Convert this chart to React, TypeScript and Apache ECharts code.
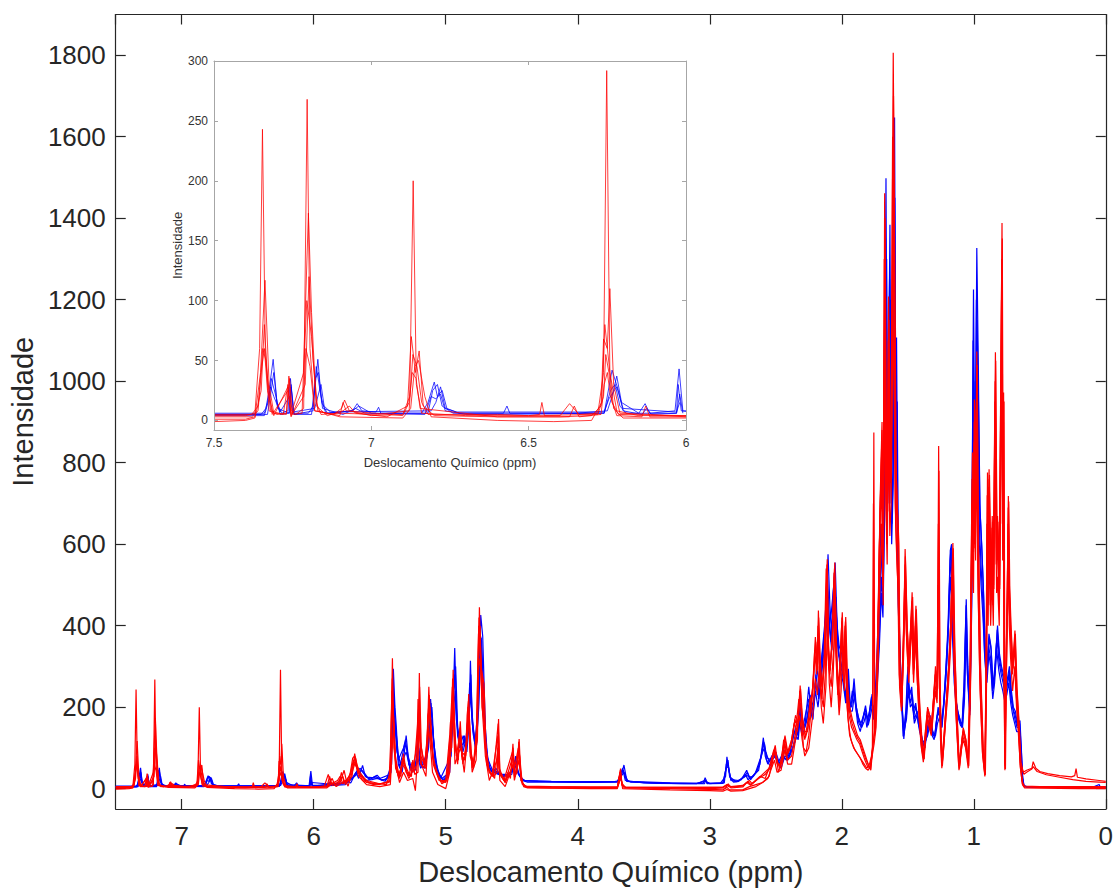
import React, { useEffect, useRef } from "react";
import * as echarts from "echarts";

// ---- Spectra: [chemical shift (ppm), intensity] ----
const blue1: number[][] = [
  [7.5,5],[7.35,5],[7.335,10],[7.325,25],[7.312,51],[7.30,15],[7.285,6],[7.265,8],[7.257,35],[7.248,6],[7.2,6],[7.185,12],[7.17,51],[7.158,15],[7.14,6],[7.06,8],[7.045,14],[7.03,8],[6.985,7],[6.977,11],[6.97,6],[6.84,6],[6.82,15],[6.8,32],[6.79,20],[6.775,25],[6.76,10],[6.72,6],[6.58,6],[6.569,12],[6.56,6],[6.35,6],[6.25,8],[6.235,20],[6.22,37],[6.205,15],[6.15,6],[6.13,14],[6.115,6],[6.035,8],[6.022,43],[6.01,8],
  [5.95,8],[5.90,10],[5.88,16],[5.86,10],[5.78,12],[5.75,18],[5.72,14],[5.68,40],[5.66,25],[5.63,57],[5.61,30],[5.58,25],[5.55,28],[5.52,33],[5.49,22],[5.45,22],[5.41,60],[5.397,294],[5.385,200],[5.375,155],[5.36,60],[5.33,40],[5.30,130],[5.285,80],[5.26,50],[5.23,45],[5.21,120],[5.195,60],[5.16,50],[5.13,100],[5.115,220],[5.10,150],[5.08,60],[5.05,30],[5.02,22],[4.97,40],[4.95,150],[4.932,345],[4.92,200],[4.9,100],[4.87,110],[4.858,130],[4.84,90],[4.825,150],[4.813,314],[4.80,160],[4.77,100],[4.75,200],[4.735,426],[4.72,374],[4.70,150],[4.68,60],[4.65,40],[4.62,50],[4.59,35],[4.55,35],[4.52,30],[4.48,60],[4.47,80],[4.455,40],[4.43,25],[4.40,20],
  [4.3,18],[4.1,17],[3.9,17],[3.72,17],[3.68,20],[3.65,58],[3.63,22],[3.6,16],[3.4,14],[3.2,13],[3.05,13],[3.035,27],[3.02,13],[2.92,13],[2.88,30],[2.87,78],[2.855,45],[2.84,20],[2.80,18],[2.76,22],[2.72,45],[2.70,25],[2.67,30],[2.65,40],[2.62,60],[2.594,125],[2.58,80],[2.56,60],[2.53,80],[2.50,90],[2.47,60],[2.44,95],[2.41,80],
  [2.38,110],[2.35,150],[2.33,130],[2.315,210],[2.30,160],[2.28,150],[2.25,250],[2.23,180],[2.21,220],[2.19,300],[2.17,250],[2.15,330],[2.13,400],[2.115,480],[2.104,575],[2.09,450],[2.075,380],[2.065,480],[2.05,555],[2.035,400],[2.02,350],[2.0,330],[1.98,250],[1.965,210],[1.95,294],[1.935,200],[1.92,220],[1.907,270],[1.89,200],[1.87,170],[1.85,150],[1.835,180],[1.82,204],[1.80,160],[1.785,200],[1.77,232],[1.76,190],[1.745,220],
  [1.73,300],[1.715,420],[1.70,600],[1.69,500],[1.675,900],[1.665,1498],[1.655,800],[1.645,1000],[1.635,1384],[1.625,700],[1.615,900],[1.60,1647],[1.592,1000],[1.585,1107],[1.575,600],[1.565,400],[1.55,250],[1.53,122],
  [1.51,200],[1.50,300],[1.485,230],[1.47,250],[1.455,180],[1.44,200],[1.42,170],[1.40,140],[1.385,110],[1.37,100],[1.35,150],[1.33,180],[1.315,130],[1.30,120],[1.285,160],[1.27,200],[1.255,170],[1.24,150],[1.225,220],[1.21,300],[1.19,408],[1.178,584],[1.168,600],[1.158,420],[1.15,300],[1.135,220],[1.12,188],[1.105,170],[1.09,150],[1.075,250],[1.057,465],[1.045,300],[1.03,200],[1.015,600],[1.002,1225],[0.99,700],[0.977,1327],[0.965,1024],[0.955,700],[0.94,600],[0.927,490],[0.915,350],[0.90,300],[0.885,380],[0.87,350],[0.855,250],[0.84,300],[0.82,400],[0.805,330],[0.79,300],[0.775,280],[0.76,250],[0.745,270],[0.73,300],[0.715,240],[0.70,200],[0.685,190],[0.67,160],[0.65,167],[0.64,100],[0.63,30],[0.62,8],[0.6,5],[0.5,4],[0.3,3],[0.1,3],[0.05,10],[0.04,3],[0,3]
];

const blue2: number[][] = [
  [7.5,4],[7.34,4],[7.325,18],[7.318,35],[7.305,22],[7.29,5],[7.262,6],[7.255,30],[7.246,5],[7.19,5],[7.178,35],[7.168,40],[7.155,10],[7.09,5],[7.05,10],[7.02,6],[6.83,5],[6.81,20],[6.795,18],[6.78,22],[6.765,8],[6.7,5],[6.6,5],[6.26,6],[6.235,42],[6.215,25],[6.2,8],[6.14,5],[6.125,10],[6.11,5],[6.03,6],[6.025,30],[6.015,8],
  [5.95,6],[5.85,8],[5.76,10],[5.70,30],[5.67,45],[5.64,35],[5.61,20],[5.56,22],[5.52,25],[5.46,18],[5.415,40],[5.40,250],[5.39,180],[5.37,120],[5.35,50],[5.31,110],[5.29,90],[5.27,45],[5.22,60],[5.205,100],[5.18,55],[5.14,90],[5.12,180],[5.105,200],[5.09,110],[5.06,40],[5.02,20],[4.98,30],[4.96,120],[4.94,250],[4.925,300],[4.91,150],[4.88,90],[4.86,120],[4.845,100],[4.82,200],[4.81,280],[4.795,140],[4.77,90],[4.745,250],[4.732,370],[4.725,300],[4.71,200],[4.69,80],[4.66,45],[4.62,40],[4.57,30],[4.5,35],[4.475,70],[4.46,45],[4.42,20],[4.38,16],
  [4.2,16],[3.9,15],[3.7,16],[3.66,50],[3.64,20],[3.5,14],[3.2,12],[3.04,12],[3.03,22],[3.02,12],[2.89,14],[2.875,60],[2.862,70],[2.85,30],[2.82,16],[2.78,18],[2.73,35],[2.71,22],[2.66,35],[2.63,45],[2.60,100],[2.585,110],[2.57,70],[2.54,55],[2.52,85],[2.49,70],[2.46,50],[2.43,80],[2.40,75],
  [2.37,100],[2.34,130],[2.32,180],[2.30,140],[2.27,190],[2.25,220],[2.22,170],[2.20,260],[2.18,230],[2.16,300],[2.14,350],[2.12,420],[2.11,500],[2.095,400],[2.08,430],[2.06,500],[2.045,450],[2.03,360],[2.01,300],[1.99,280],[1.97,230],[1.955,260],[1.94,190],[1.92,240],[1.90,220],[1.88,160],[1.86,140],[1.84,170],[1.825,190],[1.81,150],[1.79,180],[1.775,215],[1.76,170],[1.745,200],
  [1.73,280],[1.715,380],[1.70,520],[1.688,450],[1.672,800],[1.66,1300],[1.65,750],[1.64,900],[1.63,1200],[1.62,650],[1.61,800],[1.598,1450],[1.59,900],[1.58,950],[1.57,500],[1.56,350],[1.545,220],[1.53,130],
  [1.51,180],[1.495,260],[1.48,210],[1.465,230],[1.45,170],[1.43,190],[1.41,150],[1.39,120],[1.37,110],[1.35,140],[1.33,170],[1.31,140],[1.295,130],[1.28,170],[1.265,190],[1.25,160],[1.23,200],[1.21,280],[1.195,380],[1.182,520],[1.17,560],[1.16,400],[1.145,280],[1.13,200],[1.115,175],[1.10,160],[1.085,160],[1.07,240],[1.06,420],[1.048,280],[1.03,190],[1.015,500],[1.005,1100],[0.992,650],[0.98,1200],[0.968,950],[0.958,650],[0.945,550],[0.93,450],[0.918,330],[0.90,280],[0.888,350],[0.872,320],[0.858,240],[0.842,280],[0.825,370],[0.808,310],[0.792,280],[0.778,260],[0.762,230],[0.748,250],[0.732,280],[0.718,220],[0.70,190],[0.688,170],[0.672,150],[0.655,150],[0.642,90],[0.632,25],[0.62,6],[0.6,4],[0.3,3],[0,3]
];

const blue3: number[][] = [
  [7.5,5],[7.33,5],[7.32,22],[7.31,40],[7.298,10],[7.26,6],[7.255,28],[7.245,5],[7.185,8],[7.175,45],[7.16,20],[7.145,6],[7.06,8],[7.04,12],[7.0,6],[6.82,6],[6.805,25],[6.79,30],[6.775,12],[6.74,6],[6.26,6],[6.24,25],[6.225,30],[6.21,12],[6.19,6],[6.03,6],[6.02,22],[6.01,6],
  [5.9,10],[5.8,12],[5.71,25],[5.68,35],[5.65,50],[5.62,40],[5.58,22],[5.53,30],[5.48,20],[5.42,30],[5.405,200],[5.392,230],[5.38,140],[5.36,70],[5.32,100],[5.305,120],[5.28,60],[5.25,40],[5.215,80],[5.19,50],[5.15,70],[5.125,160],[5.112,210],[5.095,130],[5.07,50],[5.03,25],[4.99,35],[4.965,100],[4.948,200],[4.935,280],[4.92,170],[4.895,100],[4.868,130],[4.85,110],[4.83,180],[4.818,260],[4.805,200],[4.78,110],[4.76,180],[4.74,380],[4.728,360],[4.715,250],[4.70,120],[4.67,50],[4.63,45],[4.58,35],[4.53,30],[4.49,50],[4.468,65],[4.45,35],[4.41,20],
  [4.2,17],[3.9,16],[3.7,17],[3.655,45],[3.63,18],[3.4,13],[3.1,12],[3.04,20],[3.0,12],[2.9,13],[2.88,45],[2.865,65],[2.845,28],[2.8,17],[2.74,28],[2.715,40],[2.69,22],[2.655,38],[2.61,80],[2.59,115],[2.575,90],[2.55,65],[2.51,85],[2.48,65],[2.45,85],[2.42,70],
  [2.39,90],[2.36,140],[2.33,120],[2.31,190],[2.29,150],[2.265,170],[2.24,230],[2.215,200],[2.195,280],[2.175,220],[2.155,280],[2.135,360],[2.118,450],[2.108,520],[2.095,420],[2.08,360],[2.068,440],[2.055,520],[2.04,420],[2.025,330],[2.005,310],[1.985,260],[1.97,220],[1.952,270],[1.94,210],[1.925,200],[1.91,250],[1.895,210],[1.875,175],[1.855,160],[1.84,175],[1.822,195],[1.805,170],[1.79,190],[1.775,225],[1.762,180],[1.75,210],
  [1.735,320],[1.72,450],[1.705,650],[1.692,520],[1.68,1000],[1.668,1350],[1.658,850],[1.648,950],[1.638,1250],[1.628,750],[1.615,850],[1.603,1550],[1.594,1050],[1.587,1000],[1.577,550],[1.565,380],[1.55,240],[1.535,128],
  [1.515,190],[1.502,280],[1.49,240],[1.475,240],[1.458,190],[1.44,210],[1.42,160],[1.402,135],[1.385,105],[1.365,120],[1.345,160],[1.328,175],[1.31,135],[1.295,125],[1.278,180],[1.26,190],[1.245,155],[1.228,210],[1.212,290],[1.195,400],[1.18,560],[1.172,590],[1.16,430],[1.148,290],[1.132,210],[1.118,185],[1.10,165],[1.088,155],[1.072,260],[1.058,450],[1.045,290],[1.028,195],[1.012,700],[1.0,1000],[0.99,720],[0.975,1150],[0.962,900],[0.952,680],[0.938,580],[0.925,470],[0.912,340],[0.898,290],[0.882,370],[0.868,340],[0.852,245],[0.838,290],[0.822,390],[0.806,320],[0.79,290],[0.775,270],[0.76,240],[0.744,260],[0.73,290],[0.716,230],[0.702,195],[0.686,180],[0.67,155],[0.652,160],[0.64,95],[0.63,28],[0.62,7],[0.6,4],[0.3,3],[0,3]
];

const blue4: number[][] = [
  [7.5,6],[7.34,6],[7.33,15],[7.32,28],[7.31,20],[7.29,7],[7.26,20],[7.25,7],[7.18,10],[7.16,30],[7.15,12],[7.13,7],[6.81,8],[6.795,15],[6.78,28],[6.765,10],[6.73,7],[6.26,7],[6.245,18],[6.22,28],[6.2,10],[6.03,7],[6.02,15],
  [5.9,12],[5.75,14],[5.69,30],[5.64,45],[5.6,28],[5.5,25],[5.42,35],[5.40,180],[5.385,160],[5.37,90],[5.34,60],[5.3,90],[5.27,50],[5.2,70],[5.15,60],[5.12,140],[5.105,170],[5.08,70],[5.04,25],[4.96,80],[4.94,200],[4.928,240],[4.91,130],[4.87,90],[4.855,110],[4.835,140],[4.815,230],[4.8,170],[4.77,90],[4.745,300],[4.73,330],[4.715,200],[4.69,80],[4.64,40],[4.56,30],[4.48,45],[4.465,60],[4.44,30],[4.4,19],
  [4.2,18],[3.9,17],[3.7,18],[3.65,40],[3.62,18],[3.3,14],[3.1,13],[3.035,18],[3.0,13],[2.9,14],[2.875,50],[2.86,55],[2.84,22],[2.78,20],[2.72,32],[2.68,28],[2.64,45],[2.6,90],[2.585,100],[2.565,75],[2.53,70],[2.5,80],[2.47,60],[2.44,75],[2.41,70],
  [2.38,95],[2.35,120],[2.32,160],[2.3,130],[2.27,160],[2.245,200],[2.22,170],[2.2,240],[2.18,200],[2.16,260],[2.14,320],[2.12,380],[2.105,450],[2.09,380],[2.075,340],[2.06,420],[2.045,470],[2.03,350],[2.01,290],[1.99,260],[1.97,210],[1.955,240],[1.94,190],[1.92,190],[1.905,230],[1.89,190],[1.87,160],[1.85,150],[1.83,165],[1.815,185],[1.8,155],[1.785,175],[1.77,200],[1.755,170],[1.745,190],
  [1.73,260],[1.715,350],[1.70,480],[1.688,420],[1.674,700],[1.662,1150],[1.652,700],[1.642,820],[1.632,1050],[1.622,600],[1.61,750],[1.6,1300],[1.59,850],[1.582,850],[1.572,450],[1.56,320],[1.545,200],[1.53,140],
  [1.51,170],[1.495,240],[1.48,200],[1.465,210],[1.45,160],[1.43,180],[1.41,140],[1.39,115],[1.37,115],[1.35,130],[1.33,160],[1.31,130],[1.29,130],[1.275,160],[1.26,175],[1.245,150],[1.23,190],[1.215,250],[1.2,330],[1.185,470],[1.175,520],[1.162,380],[1.148,260],[1.13,190],[1.115,170],[1.10,155],[1.085,150],[1.07,220],[1.058,380],[1.045,260],[1.03,180],[1.015,450],[1.003,900],[0.992,600],[0.98,1000],[0.968,800],[0.958,600],[0.945,500],[0.93,420],[0.915,310],[0.9,260],[0.886,330],[0.872,300],[0.856,220],[0.842,260],[0.826,340],[0.81,290],[0.795,260],[0.78,240],[0.765,215],[0.75,230],[0.735,260],[0.72,210],[0.705,180],[0.69,160],[0.675,140],[0.658,140],[0.645,85],[0.635,22],[0.622,6],[0.6,4],[0.3,3],[0,4]
];

const red1: number[][] = [
  [7.5,4],[7.40,4],[7.37,6],[7.355,60],[7.346,243],[7.337,60],[7.325,8],[7.30,5],[7.27,6],[7.262,37],[7.254,8],[7.24,5],[7.215,10],[7.204,268],[7.195,60],[7.18,8],[7.12,5],[7.095,10],[7.085,17],[7.07,8],[7.0,4],[6.90,5],[6.878,20],[6.867,200],[6.857,30],[6.84,6],[6.70,4],[6.5,4],[6.465,5],[6.458,15],[6.45,4],[6.40,4],[6.37,14],[6.34,5],[6.28,6],[6.262,40],[6.252,292],[6.242,40],[6.22,8],[6.15,4],[6.0,4],
  [5.92,6],[5.89,35],[5.87,12],[5.80,15],[5.77,45],[5.75,15],[5.71,30],[5.69,86],[5.675,60],[5.65,40],[5.62,25],[5.58,15],[5.50,12],[5.45,10],[5.42,40],[5.404,320],[5.393,100],[5.37,40],[5.34,30],[5.32,86],[5.30,40],[5.26,30],[5.25,70],[5.235,35],[5.21,40],[5.20,284],[5.19,80],[5.16,60],[5.14,120],[5.128,250],[5.115,120],[5.09,70],[5.06,30],[5.02,15],[4.98,30],[4.964,164],[4.955,100],[4.944,292],[4.93,120],[4.91,60],[4.89,165],[4.875,70],[4.85,80],[4.835,160],[4.826,232],[4.815,100],[4.79,60],[4.76,120],[4.745,445],[4.735,300],[4.71,257],[4.695,100],[4.67,40],[4.64,30],[4.61,40],[4.60,171],[4.59,40],[4.55,20],[4.53,40],[4.51,25],[4.491,110],[4.48,30],[4.46,40],[4.444,122],[4.43,20],[4.4,6],
  [4.2,5],[3.9,4],[3.70,4],[3.685,15],[3.676,49],[3.665,10],[3.64,4],[3.3,3],[3.0,3],[2.9,4],[2.87,10],[2.84,5],[2.75,8],[2.70,20],[2.68,12],[2.62,30],[2.58,25],[2.54,60],[2.504,106],[2.49,70],[2.47,50],[2.45,90],[2.43,130],[2.41,90],
  [2.38,120],[2.35,180],[2.33,160],[2.315,253],[2.30,150],[2.28,120],[2.26,160],[2.24,200],[2.22,250],[2.20,372],[2.185,300],[2.177,437],[2.165,300],[2.15,250],[2.13,330],[2.11,563],[2.10,350],[2.09,300],[2.07,380],[2.053,555],[2.04,350],[2.03,250],[2.015,300],[1.996,433],[1.985,300],[1.97,421],[1.955,250],[1.94,200],[1.92,170],[1.90,150],[1.88,130],[1.86,120],[1.84,100],[1.82,80],[1.80,60],[1.78,45],[1.765,100],[1.757,874],[1.75,150],[1.74,200],
  [1.725,400],[1.71,700],[1.695,900],[1.685,600],[1.675,1461],[1.665,900],[1.655,700],[1.645,1208],[1.635,800],[1.625,900],[1.61,1806],[1.60,1298],[1.59,800],[1.58,700],[1.57,624],[1.56,300],[1.545,204],[1.53,400],[1.52,588],[1.505,400],[1.49,300],[1.475,420],[1.467,482],[1.455,300],[1.438,449],[1.425,300],[1.41,200],[1.395,120],[1.379,73],[1.36,150],[1.35,200],[1.335,180],[1.32,150],[1.305,220],[1.29,300],[1.275,250],[1.266,841],[1.258,300],[1.25,150],[1.24,57],[1.225,120],[1.21,200],[1.19,300],[1.175,400],[1.158,603],[1.145,350],[1.13,200],[1.11,49],[1.095,100],[1.08,150],[1.06,120],[1.04,57],[1.025,300],[1.01,825],[1.0,600],[0.995,955],[0.985,700],[0.977,1073],[0.965,600],[0.95,300],[0.93,100],[0.914,33],[0.905,300],[0.896,776],[0.89,500],[0.884,784],[0.87,500],[0.86,669],[0.85,500],[0.836,1071],[0.825,600],[0.82,669],[0.805,500],[0.786,1388],[0.78,700],[0.774,972],[0.768,300],[0.763,49],[0.755,300],[0.745,500],[0.738,718],[0.73,500],[0.72,400],[0.705,300],[0.688,388],[0.675,250],[0.66,170],[0.645,60],[0.63,15],[0.615,6],[0.5,5],[0.3,5],[0.1,5],[0,5]
];

const red2: number[][] = [
  [7.5,1],[7.40,1],[7.37,3],[7.352,40],[7.338,117],[7.325,30],[7.31,6],[7.27,5],[7.26,35],[7.25,5],[7.22,6],[7.20,173],[7.19,90],[7.175,12],[7.14,4],[7.09,8],[7.07,12],[7.05,6],[6.95,3],[6.885,12],[6.873,70],[6.86,40],[6.848,58],[6.835,12],[6.8,4],[6.6,3],[6.4,3],[6.30,4],[6.27,12],[6.262,68],[6.25,60],[6.242,110],[6.23,30],[6.21,6],[6.12,5],[6.0,3],
  [5.9,5],[5.86,25],[5.84,8],[5.78,30],[5.76,10],[5.72,40],[5.70,70],[5.68,55],[5.64,30],[5.6,15],[5.5,10],[5.42,20],[5.41,150],[5.40,200],[5.385,90],[5.36,30],[5.33,60],[5.31,50],[5.28,25],[5.24,50],[5.215,150],[5.205,200],[5.19,60],[5.15,50],[5.135,180],[5.12,200],[5.10,80],[5.07,40],[5.03,12],[4.99,20],[4.97,120],[4.95,250],[4.94,200],[4.92,80],[4.9,120],[4.885,130],[4.87,60],[4.84,120],[4.83,200],[4.82,150],[4.8,50],[4.77,100],[4.752,380],[4.74,400],[4.725,200],[4.705,150],[4.69,60],[4.65,30],[4.605,130],[4.595,50],[4.55,15],[4.5,70],[4.49,80],[4.475,30],[4.45,90],[4.44,80],[4.42,10],[4.38,3],
  [4.2,2],[3.9,2],[3.7,2],[3.68,40],[3.67,20],[3.65,2],[3.3,0],[3.0,-2],[2.9,-3],[2.87,3],[2.85,-3],[2.75,-3],[2.70,5],[2.65,10],[2.6,15],[2.55,30],[2.52,80],[2.5,90],[2.48,40],[2.45,70],[2.43,110],[2.41,70],
  [2.38,80],[2.35,140],[2.325,220],[2.31,200],[2.29,100],[2.27,90],[2.25,130],[2.23,200],[2.21,300],[2.19,330],[2.18,380],[2.165,250],[2.14,200],[2.125,280],[2.115,500],[2.10,300],[2.08,250],[2.06,350],[2.05,480],[2.035,300],[2.02,200],[2.0,380],[1.985,260],[1.975,360],[1.96,200],[1.945,150],[1.93,120],[1.91,100],[1.89,90],[1.87,80],[1.85,70],[1.83,60],[1.81,50],[1.79,60],[1.775,80],[1.76,120],[1.745,150],
  [1.73,350],[1.715,600],[1.70,750],[1.688,500],[1.678,1300],[1.668,800],[1.658,600],[1.648,1100],[1.638,700],[1.628,800],[1.615,1600],[1.605,1150],[1.595,700],[1.585,600],[1.575,500],[1.565,280],[1.55,210],[1.535,350],[1.522,520],[1.51,380],[1.495,280],[1.48,380],[1.47,430],[1.458,280],[1.442,400],[1.43,280],[1.415,180],[1.40,110],[1.385,80],[1.37,130],[1.355,180],[1.34,160],[1.325,140],[1.31,200],[1.295,260],[1.28,220],[1.27,500],[1.26,280],[1.25,130],[1.242,70],[1.23,110],[1.215,180],[1.195,270],[1.18,350],[1.162,540],[1.15,320],[1.135,180],[1.115,60],[1.10,90],[1.085,130],[1.065,110],[1.045,70],[1.03,250],[1.015,700],[1.005,550],[0.998,850],[0.988,650],[0.98,950],[0.97,550],[0.955,280],[0.935,90],[0.918,40],[0.908,250],[0.9,650],[0.893,450],[0.887,700],[0.875,450],[0.865,600],[0.855,450],[0.84,950],[0.83,550],[0.822,600],[0.81,450],[0.79,1200],[0.783,650],[0.777,850],[0.77,280],[0.765,60],[0.757,280],[0.748,450],[0.74,650],[0.732,450],[0.722,370],[0.708,280],[0.69,350],[0.678,230],[0.662,150],[0.648,55],[0.632,12],[0.615,4],[0.5,3],[0.2,3],[0,3]
];

const red3: number[][] = [
  [7.5,5],[7.38,5],[7.36,12],[7.345,60],[7.335,50],[7.32,8],[7.28,5],[7.265,30],[7.255,5],[7.215,40],[7.205,100],[7.19,70],[7.175,15],[7.16,5],[7.1,6],[6.98,5],[6.88,8],[6.868,55],[6.855,45],[6.84,15],[6.82,5],[6.6,5],[6.5,4],[6.28,5],[6.262,20],[6.255,55],[6.245,40],[6.235,15],[6.215,5],[6.0,4],
  [5.9,6],[5.82,20],[5.80,30],[5.78,12],[5.73,25],[5.705,75],[5.69,80],[5.67,45],[5.63,20],[5.55,10],[5.43,15],[5.415,130],[5.405,270],[5.395,150],[5.38,50],[5.35,25],[5.325,75],[5.31,60],[5.27,30],[5.245,60],[5.225,90],[5.21,140],[5.198,250],[5.185,100],[5.16,50],[5.14,90],[5.13,200],[5.118,160],[5.095,60],[5.05,20],[5.0,15],[4.975,60],[4.96,140],[4.945,240],[4.93,100],[4.905,70],[4.892,150],[4.878,80],[4.855,70],[4.835,130],[4.828,200],[4.815,80],[4.79,50],[4.762,150],[4.748,420],[4.737,350],[4.72,230],[4.7,120],[4.68,50],[4.63,25],[4.605,100],[4.595,40],[4.56,20],[4.495,90],[4.485,40],[4.45,100],[4.44,60],[4.42,12],[4.38,4],
  [4.2,4],[3.9,3],[3.7,3],[3.678,45],[3.665,12],[3.64,3],[3.3,2],[3.0,0],[2.88,2],[2.86,12],[2.84,2],[2.75,4],[2.72,15],[2.69,8],[2.65,20],[2.6,35],[2.55,50],[2.515,95],[2.49,60],[2.46,60],[2.44,120],[2.42,80],
  [2.39,100],[2.36,160],[2.335,140],[2.318,240],[2.30,180],[2.28,140],[2.26,140],[2.24,220],[2.22,230],[2.205,340],[2.19,280],[2.18,400],[2.17,300],[2.15,220],[2.135,300],[2.118,540],[2.105,330],[2.09,280],[2.075,350],[2.058,530],[2.045,330],[2.03,230],[2.015,280],[2.0,410],[1.99,280],[1.975,400],[1.96,230],[1.945,180],[1.925,150],[1.905,135],[1.885,120],[1.865,110],[1.845,90],[1.825,70],[1.805,55],[1.785,50],[1.77,90],[1.755,130],[1.74,180],
  [1.725,380],[1.712,650],[1.698,820],[1.686,550],[1.676,1150],[1.666,850],[1.656,650],[1.646,1050],[1.636,750],[1.626,850],[1.612,1350],[1.602,1100],[1.592,750],[1.582,650],[1.572,560],[1.562,290],[1.548,200],[1.532,380],[1.52,550],[1.507,390],[1.492,290],[1.478,400],[1.468,460],[1.456,290],[1.44,420],[1.427,290],[1.412,190],[1.397,115],[1.382,75],[1.365,140],[1.352,190],[1.338,170],[1.322,145],[1.307,210],[1.292,280],[1.278,240],[1.268,650],[1.26,290],[1.252,140],[1.242,60],[1.228,115],[1.212,190],[1.192,290],[1.178,380],[1.16,570],[1.148,330],[1.132,190],[1.112,55],[1.098,95],[1.082,140],[1.062,115],[1.042,60],[1.028,280],[1.012,760],[1.002,580],[0.996,900],[0.986,680],[0.978,1000],[0.967,580],[0.952,290],[0.932,95],[0.916,36],[0.906,280],[0.898,720],[0.891,480],[0.885,740],[0.872,480],[0.862,640],[0.852,480],[0.838,1000],[0.827,580],[0.821,640],[0.807,480],[0.788,1300],[0.781,680],[0.775,900],[0.769,290],[0.764,55],[0.756,290],[0.746,480],[0.739,690],[0.731,480],[0.721,390],[0.706,290],[0.689,370],[0.676,240],[0.661,160],[0.646,58],[0.635,50],[0.62,35],[0.6,40],[0.56,48],[0.55,54],[0.52,42],[0.45,34],[0.35,28],[0.25,22],[0.15,18],[0.05,16],[0,15]
];

const red4: number[][] = [
  [7.5,-1],[7.40,0],[7.37,2],[7.35,25],[7.34,80],[7.33,35],[7.315,5],[7.265,25],[7.255,3],[7.21,30],[7.198,120],[7.185,50],[7.17,8],[7.1,3],[6.9,2],[6.875,10],[6.862,45],[6.85,50],[6.83,20],[6.81,3],[6.6,0],[6.42,-1],[6.3,0],[6.268,15],[6.258,80],[6.245,48],[6.23,10],[6.2,2],[6.0,2],
  [5.9,2],[5.85,15],[5.83,5],[5.76,20],[5.74,6],[5.7,50],[5.685,65],[5.66,30],[5.6,10],[5.5,5],[5.42,10],[5.405,100],[5.395,180],[5.38,60],[5.35,15],[5.32,40],[5.29,20],[5.25,25],[5.23,-5],[5.21,100],[5.2,180],[5.185,60],[5.15,30],[5.13,150],[5.12,120],[5.1,40],[5.06,10],[5.0,0],[4.97,40],[4.955,150],[4.945,200],[4.93,60],[4.9,90],[4.885,100],[4.86,40],[4.83,150],[4.82,170],[4.8,40],[4.77,70],[4.75,300],[4.74,320],[4.72,180],[4.7,80],[4.67,20],[4.6,80],[4.59,20],[4.55,5],[4.49,60],[4.48,20],[4.445,70],[4.435,40],[4.41,5],[4.38,2],
  [4.2,1],[3.9,0],[3.7,0],[3.675,30],[3.66,0],[3.3,-3],[3.0,-5],[2.9,-6],[2.87,-2],[2.84,-6],[2.75,-5],[2.7,0],[2.65,5],[2.6,15],[2.56,25],[2.51,70],[2.49,40],[2.46,45],[2.43,95],[2.41,60],
  [2.38,60],[2.35,120],[2.32,180],[2.30,120],[2.28,80],[2.25,100],[2.22,180],[2.2,270],[2.185,230],[2.17,300],[2.155,200],[2.14,160],[2.12,250],[2.108,430],[2.095,260],[2.08,200],[2.065,280],[2.05,420],[2.035,270],[2.02,180],[2.005,240],[1.992,350],[1.98,240],[1.968,330],[1.955,180],[1.94,130],[1.92,110],[1.9,95],[1.88,85],[1.86,75],[1.84,60],[1.82,50],[1.80,45],[1.785,55],[1.77,80],[1.755,110],[1.74,150],
  [1.725,300],[1.71,520],[1.698,650],[1.686,450],[1.676,1000],[1.666,700],[1.656,550],[1.646,900],[1.636,620],[1.626,700],[1.612,1150],[1.602,950],[1.592,650],[1.582,550],[1.572,480],[1.562,250],[1.548,190],[1.532,320],[1.52,480],[1.507,350],[1.492,260],[1.478,350],[1.468,400],[1.456,260],[1.44,370],[1.427,260],[1.412,170],[1.397,100],[1.382,65],[1.365,120],[1.352,170],[1.338,150],[1.322,130],[1.307,180],[1.292,240],[1.278,210],[1.268,420],[1.26,250],[1.252,120],[1.242,50],[1.228,100],[1.212,170],[1.192,250],[1.178,330],[1.16,480],[1.148,290],[1.132,170],[1.112,45],[1.098,85],[1.082,120],[1.062,100],[1.042,50],[1.028,230],[1.012,600],[1.002,480],[0.996,750],[0.986,560],[0.978,850],[0.967,480],[0.952,240],[0.932,80],[0.916,30],[0.906,230],[0.898,580],[0.891,400],[0.885,600],[0.872,400],[0.862,520],[0.852,400],[0.838,850],[0.827,480],[0.821,520],[0.807,400],[0.788,1050],[0.781,560],[0.775,750],[0.769,240],[0.764,45],[0.756,240],[0.746,400],[0.739,580],[0.731,400],[0.721,320],[0.706,240],[0.689,300],[0.676,200],[0.661,130],[0.646,50],[0.631,10],[0.615,2],[0.5,1],[0.2,0],[0,0]
];

const red5: number[][] = [
  [7.5,3],[7.38,3],[7.36,8],[7.348,45],[7.34,60],[7.33,25],[7.31,4],[7.265,28],[7.255,4],[7.215,20],[7.208,60],[7.195,45],[7.18,8],[7.1,4],[7.09,15],[7.08,8],[6.9,4],[6.88,15],[6.87,40],[6.858,35],[6.845,10],[6.6,3],[6.5,3],[6.37,3],[6.355,12],[6.34,3],[6.27,5],[6.26,30],[6.25,40],[6.24,20],[6.22,4],[6.14,3],[6.128,12],[6.115,3],[6.0,3],
  [5.9,5],[5.88,30],[5.86,8],[5.81,12],[5.79,40],[5.77,15],[5.72,35],[5.7,60],[5.685,78],[5.66,40],[5.6,20],[5.5,12],[5.42,18],[5.408,240],[5.398,190],[5.38,70],[5.35,30],[5.33,70],[5.31,55],[5.28,30],[5.255,65],[5.24,40],[5.22,60],[5.21,220],[5.195,120],[5.16,55],[5.14,130],[5.125,230],[5.11,140],[5.09,60],[5.04,20],[5.0,20],[4.97,130],[4.96,90],[4.948,270],[4.935,130],[4.91,70],[4.895,140],[4.88,90],[4.85,80],[4.838,180],[4.828,215],[4.815,90],[4.79,60],[4.765,150],[4.75,400],[4.74,330],[4.715,240],[4.7,100],[4.67,40],[4.64,30],[4.603,160],[4.59,35],[4.55,15],[4.5,50],[4.49,100],[4.475,30],[4.455,60],[4.447,115],[4.43,20],[4.4,5],
  [4.2,4],[3.9,4],[3.7,4],[3.678,40],[3.665,8],[3.64,4],[3.3,3],[3.0,3],[2.9,3],[2.87,8],[2.85,4],[2.75,6],[2.71,18],[2.69,10],[2.63,25],[2.58,35],[2.53,55],[2.508,100],[2.49,65],[2.47,55],[2.45,80],[2.432,125],[2.41,85],
  [2.38,110],[2.355,170],[2.335,150],[2.312,245],[2.295,160],[2.275,125],[2.255,150],[2.235,190],[2.215,260],[2.198,360],[2.185,290],[2.175,420],[2.162,310],[2.148,240],[2.13,320],[2.112,550],[2.1,340],[2.088,290],[2.07,370],[2.055,540],[2.042,340],[2.028,240],[2.012,290],[1.998,420],[1.985,290],[1.972,410],[1.958,240],[1.942,190],[1.922,160],[1.902,140],[1.882,125],[1.862,115],[1.842,95],[1.822,75],[1.80,60],[1.782,48],[1.768,95],[1.76,700],[1.752,130],[1.74,190],
  [1.725,390],[1.71,680],[1.695,880],[1.685,580],[1.672,1400],[1.662,880],[1.652,680],[1.642,1150],[1.632,780],[1.622,880],[1.608,1700],[1.598,1250],[1.588,780],[1.578,680],[1.568,600],[1.558,295],[1.545,200],[1.528,390],[1.518,570],[1.503,390],[1.488,295],[1.473,410],[1.463,470],[1.452,295],[1.435,440],[1.422,295],[1.407,195],[1.392,118],[1.376,72],[1.36,145],[1.346,195],[1.332,175],[1.318,148],[1.302,215],[1.288,290],[1.274,245],[1.264,780],[1.256,295],[1.248,145],[1.238,55],[1.224,118],[1.208,195],[1.188,295],[1.172,390],[1.155,590],[1.143,340],[1.128,195],[1.108,50],[1.093,98],[1.078,145],[1.058,118],[1.038,55],[1.022,290],[1.008,800],[0.998,590],[0.992,930],[0.982,690],[0.974,1040],[0.963,590],[0.948,295],[0.928,98],[0.912,34],[0.902,290],[0.894,760],[0.887,490],[0.881,770],[0.868,490],[0.858,655],[0.848,490],[0.834,1050],[0.823,590],[0.817,655],[0.803,490],[0.784,1350],[0.777,690],[0.771,950],[0.765,295],[0.76,48],[0.752,295],[0.742,490],[0.735,705],[0.727,490],[0.717,395],[0.702,295],[0.685,380],[0.672,245],[0.657,165],[0.642,65],[0.625,40],[0.6,45],[0.56,50],[0.55,66],[0.53,50],[0.5,42],[0.44,37],[0.35,32],[0.26,29],[0.235,32],[0.225,49],[0.215,28],[0.15,24],[0.05,20],[0,18]
];

const blueSpectra = [blue1, blue2, blue3, blue4];
const redSpectra = [red1, red2, red3, red4, red5];

const mainYTicks = [0, 200, 400, 600, 800, 1000, 1200, 1400, 1600, 1800];
const insetYTicks = [0, 50, 100, 150, 200, 250, 300];

const X_TITLE = "Deslocamento Químico (ppm)";
const Y_TITLE = "Intensidade";

const BLUE = "#0000ff";
const RED = "#ff0000";
const AXIS_DARK = "#262626";
const INSET_AXIS = "#a6a6a6";
const FONT = "'Liberation Sans', Arial, Helvetica, sans-serif";

const plain = (v: number) => String(v);

export default function App() {
  const ref = useRef<HTMLDivElement>(null);

  useEffect(() => {
    if (!ref.current) return;
    const chart = echarts.init(ref.current, null, { renderer: "svg" });

    const mainLine = (data: number[][], color: string) => ({
      type: "line",
      data,
      xAxisIndex: 0,
      yAxisIndex: 0,
      symbol: "none",
      showSymbol: false,
      silent: true,
      clip: true,
      lineStyle: { color, width: 1.2 },
      itemStyle: { color },
      z: 2,
    });
    const insetLine = (data: number[][], color: string) => ({
      type: "line",
      data: data.filter((p) => p[0] >= 5.95),
      xAxisIndex: 2,
      yAxisIndex: 2,
      symbol: "none",
      showSymbol: false,
      silent: true,
      clip: true,
      lineStyle: { color, width: 0.9, opacity: 0.85 },
      itemStyle: { color },
      z: 5,
    });

    const series: any[] = [];
    blueSpectra.forEach((d) => series.push(mainLine(d, BLUE)));
    redSpectra.forEach((d) => series.push(mainLine(d, RED)));
    blueSpectra.forEach((d) => series.push(insetLine(d, BLUE)));
    redSpectra.forEach((d) => series.push(insetLine(d, RED)));

    const mainX = {
      type: "value",
      min: 0,
      max: 7.5,
      interval: 1,
      inverse: true,
      splitLine: { show: false },
      axisLine: { show: true, onZero: false, lineStyle: { color: AXIS_DARK, width: 1.2 } },
      axisTick: { show: true, inside: true, length: 10, lineStyle: { color: AXIS_DARK, width: 1.2 } },
    };
    const mainY = {
      type: "value",
      min: -50,
      max: 1900,
      splitLine: { show: false },
      axisLine: { show: true, onZero: false, lineStyle: { color: AXIS_DARK, width: 1.2 } },
      axisTick: { show: true, inside: true, length: 10, customValues: mainYTicks, lineStyle: { color: AXIS_DARK, width: 1.2 } },
    };
    const insetX = {
      type: "value",
      min: 6,
      max: 7.5,
      interval: 0.5,
      inverse: true,
      gridIndex: 1,
      splitLine: { show: false },
      axisLine: { show: true, onZero: false, lineStyle: { color: INSET_AXIS, width: 1 } },
      axisTick: { show: true, inside: true, length: 4, lineStyle: { color: INSET_AXIS, width: 1 } },
    };
    const insetY = {
      type: "value",
      min: -8,
      max: 300,
      gridIndex: 1,
      splitLine: { show: false },
      axisLine: { show: true, onZero: false, lineStyle: { color: INSET_AXIS, width: 1 } },
      axisTick: { show: true, inside: true, length: 4, customValues: insetYTicks, lineStyle: { color: INSET_AXIS, width: 1 } },
    };

    const option: any = {
      animation: false,
      backgroundColor: "#ffffff",
      textStyle: { fontFamily: FONT },
      grid: [
        { left: 114, top: 14.5, width: 993, height: 795.5, show: false },
        { left: 214, top: 61, width: 472, height: 369, show: true, backgroundColor: "#ffffff", borderWidth: 0, z: 3 },
      ],
      xAxis: [
        {
          ...mainX,
          gridIndex: 0,
          position: "bottom",
          axisLabel: { show: true, fontSize: 26, color: AXIS_DARK, fontFamily: FONT, margin: 14, showMaxLabel: false, formatter: plain },
          name: X_TITLE,
          nameLocation: "middle",
          nameGap: 48,
          nameTextStyle: { fontSize: 29, color: AXIS_DARK, fontFamily: FONT },
        },
        { ...mainX, gridIndex: 0, position: "top", axisLabel: { show: false } },
        {
          ...insetX,
          position: "bottom",
          axisLabel: { show: true, fontSize: 12, color: "#333333", fontFamily: FONT, margin: 7, formatter: plain },
          name: X_TITLE,
          nameLocation: "middle",
          nameGap: 26,
          nameTextStyle: { fontSize: 13, color: "#333333", fontFamily: FONT },
          z: 6,
        },
        { ...insetX, position: "top", axisLabel: { show: false }, z: 6 },
      ],
      yAxis: [
        {
          ...mainY,
          gridIndex: 0,
          position: "left",
          axisLabel: { show: true, fontSize: 26, color: AXIS_DARK, fontFamily: FONT, margin: 10, customValues: mainYTicks, formatter: plain },
          name: Y_TITLE,
          nameLocation: "middle",
          nameGap: 76,
          nameRotate: 90,
          nameTextStyle: { fontSize: 29, color: AXIS_DARK, fontFamily: FONT },
        },
        { ...mainY, gridIndex: 0, position: "right", axisLabel: { show: false } },
        {
          ...insetY,
          position: "left",
          axisLabel: { show: true, fontSize: 12, color: "#333333", fontFamily: FONT, margin: 6, customValues: insetYTicks, formatter: plain },
          name: Y_TITLE,
          nameLocation: "middle",
          nameGap: 29,
          nameRotate: 90,
          nameTextStyle: { fontSize: 13, color: "#333333", fontFamily: FONT },
          z: 6,
        },
        { ...insetY, position: "right", axisLabel: { show: false }, z: 6 },
      ],
      series,
    };

    chart.setOption(option);
    return () => {
      chart.dispose();
    };
  }, []);

  return (
    <div
      ref={ref}
      style={{ position: "fixed", left: 0, top: 0, width: 1116, height: 891, background: "#ffffff" }}
    />
  );
}
